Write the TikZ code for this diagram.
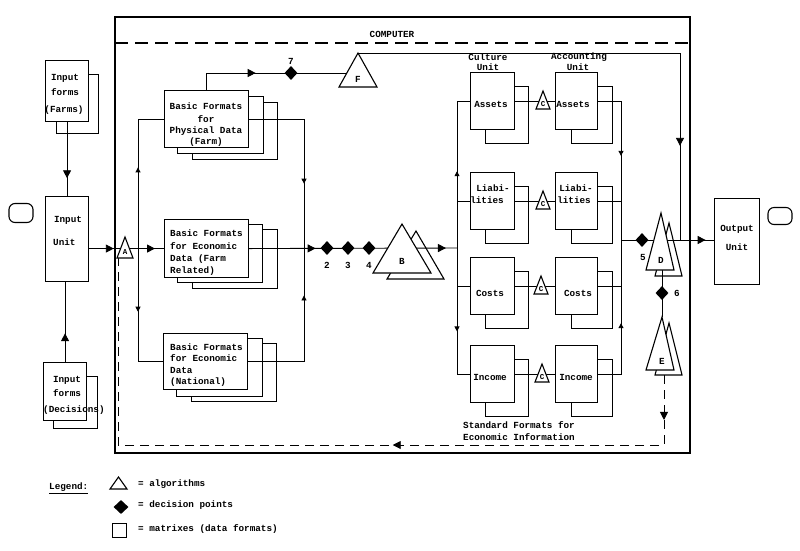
\documentclass[tikz,border=0pt]{standalone}
\usepackage{fontspec}
\setmonofont{Liberation Mono}
\usetikzlibrary{shapes.geometric,arrows.meta,decorations.markings}

\tikzset{
  fmt/.style={draw, fill=white, line width=1.1pt, anchor=north west, inner sep=0pt},
  algo/.style={draw, fill=white, line width=1.1pt},
  dpoint/.style={diamond, fill=black, inner sep=0pt, minimum width=13pt, minimum height=14pt},
  reel/.style={draw, line width=1.1pt, rounded corners=6pt, minimum width=24pt, minimum height=19pt},
  flow/.style={line width=0.9pt},
  lbl/.style={font=\ttfamily\bfseries\fontsize{9.3}{11}\selectfont, inner sep=0pt},
  letter/.style={font=\ttfamily\bfseries\fontsize{7.5}{8}\selectfont, inner sep=0pt},
  tipat/.style={postaction={decorate}, decoration={markings,
      mark=at position #1 with {\arrow{Triangle[length=8pt,width=8pt]}}}},
  tipsat/.style 2 args={postaction={decorate}, decoration={markings,
      mark=at position #1 with {\arrow{Triangle[length=8pt,width=8pt]}},
      mark=at position #2 with {\arrow{Triangle[length=8pt,width=8pt]}}}},
  bustip/.style={postaction={decorate}, decoration={markings,
      mark=at position #1 with {\arrow{Triangle[length=5pt,width=5pt]}}}}
}

\begin{document}
\begin{tikzpicture}[x=1pt,y=1pt,yscale=-1]
  \path[use as bounding box] (0,0) rectangle (800,550);
  %Computer frame
  \draw[line width=1.2pt] (115,17) rectangle (690,453);
  \draw[line width=1.2pt, dash pattern=on 13pt off 7pt] (115,43) -- (690,43);
  \node[lbl] (computer) at (392,34) {COMPUTER};

  %Tape symbols
  \node[reel] (tapein) at (21,213) {};
  \node[reel, minimum height=17pt] (tapeout) at (780,216) {};

  %Input and output units
  \node[fmt, minimum width=42pt, minimum height=59pt] (farms2) at (56,74) {};
  \node[fmt, minimum width=43pt, minimum height=61pt] (farms) at (45,60) {};
  \node[fmt, minimum width=43pt, minimum height=85pt] (inunit) at (45,196) {};
  \node[fmt, minimum width=44pt, minimum height=52pt] (decis2) at (53,376) {};
  \node[fmt, minimum width=43pt, minimum height=58pt] (decis) at (43,362) {};
  \node[fmt, minimum width=45pt, minimum height=86pt] (outunit) at (714,198) {};

  %Basic formats (stacks of three)
  \node[fmt, minimum width=85pt, minimum height=57pt] (phys3) at (192,102) {};
  \node[fmt, minimum width=86pt, minimum height=57pt] (phys2) at (177,96) {};
  \node[fmt, minimum width=84pt, minimum height=57pt] (phys) at (164,90) {};
  \node[fmt, minimum width=85pt, minimum height=59pt] (econ3) at (192,229) {};
  \node[fmt, minimum width=85pt, minimum height=58pt] (econ2) at (177,224) {};
  \node[fmt, minimum width=84pt, minimum height=58pt] (econ) at (164,219) {};
  \node[fmt, minimum width=85pt, minimum height=58pt] (natl3) at (191,343) {};
  \node[fmt, minimum width=86pt, minimum height=58pt] (natl2) at (176,338) {};
  \node[fmt, minimum width=84pt, minimum height=56pt] (natl) at (163,333) {};

  %Culture unit
  \node[fmt, minimum width=43pt, minimum height=57pt] (cAssets2) at (485,86) {};
  \node[fmt, minimum width=44pt, minimum height=57pt] (cAssets) at (470,72) {};
  \node[fmt, minimum width=43pt, minimum height=57pt] (cLiab2) at (485,186) {};
  \node[fmt, minimum width=44pt, minimum height=57pt] (cLiab) at (470,172) {};
  \node[fmt, minimum width=43pt, minimum height=57pt] (cCosts2) at (485,271) {};
  \node[fmt, minimum width=44pt, minimum height=57pt] (cCosts) at (470,257) {};
  \node[fmt, minimum width=43pt, minimum height=57pt] (cIncome2) at (485,359) {};
  \node[fmt, minimum width=44pt, minimum height=57pt] (cIncome) at (470,345) {};

  %Accounting unit
  \node[fmt, minimum width=41pt, minimum height=57pt] (aAssets2) at (571,86) {};
  \node[fmt, minimum width=42pt, minimum height=57pt] (aAssets) at (555,72) {};
  \node[fmt, minimum width=41pt, minimum height=57pt] (aLiab2) at (571,186) {};
  \node[fmt, minimum width=42pt, minimum height=57pt] (aLiab) at (555,172) {};
  \node[fmt, minimum width=41pt, minimum height=57pt] (aCosts2) at (571,271) {};
  \node[fmt, minimum width=42pt, minimum height=57pt] (aCosts) at (555,257) {};
  \node[fmt, minimum width=41pt, minimum height=57pt] (aIncome2) at (571,359) {};
  \node[fmt, minimum width=42pt, minimum height=57pt] (aIncome) at (555,345) {};

  %Back copies of algorithms B, D, E
  \draw[algo] (387,279) -- (416,231) -- (444,279) -- cycle;
  \draw[algo] (655,276) -- (669,223) -- (682,276) -- cycle;
  \draw[algo] (655,375) -- (669,323) -- (682,375) -- cycle;

  \coordinate (Ftop) at (358,53);
  \coordinate (Fin) at (347,73);
  \coordinate (Abl) at (118,258);
  \coordinate (lsplit) at (138,248);
  \coordinate (rsplit) at (304,248);
  \coordinate (cbus) at (457,248);
  \coordinate (abus) at (621,240);
  \coordinate (Fdrop) at (680,240);
  \coordinate (Dbase) at (662,270);
  \coordinate (Etop) at (662,317);
  \coordinate (Eout) at (664,375);
  \coordinate (loopturn) at (664,445);

  %Flows on the input side
  \draw[flow, tipat=0.76] (farms.south) -- (inunit.north);
  \draw[flow, tipat=0.36] (decis.north) -- (decis.north |- inunit.south);
  \draw[flow, tipsat={0.33}{0.88}] (inunit.east |- econ.west) -- (econ.west);
  \draw[flow, bustip=0.52] (lsplit) |- (phys.west);
  \draw[flow, bustip=0.46] (lsplit) |- (natl.west);
  \draw[flow, bustip=0.65] (phys.east) -| (rsplit);
  \draw[flow, bustip=0.72] (natl.east) -| (rsplit);
  \draw[flow, tipsat={0.32}{0.947}] (econ.east) -- (cbus);

  %Flows through the standard formats
  \draw[flow, bustip=0.48] (cbus) |- (cAssets.west);
  \draw[flow] (cbus |- cLiab.west) -- (cLiab.west);
  \draw[flow] (cbus |- cCosts.west) -- (cCosts.west);
  \draw[flow, bustip=0.60] (cbus) |- (cIncome.west);
  \draw[flow] (cAssets.east) -- (aAssets.west);
  \draw[flow] (cLiab.east) -- (aLiab.west);
  \draw[flow] (cCosts.east) -- (aCosts.west);
  \draw[flow] (cIncome.east) -- (aIncome.west);
  \draw[flow, bustip=0.48] (aAssets.east) -| (abus);
  \draw[flow] (aLiab.east) -- (aLiab.east -| abus);
  \draw[flow] (aCosts.east) -- (aCosts.east -| abus);
  \draw[flow, bustip=0.47] (aIncome.east) -| (abus);
  \draw[flow, tipat=0.91] (abus) -- (abus -| outunit.west);

  %Loop through F
  \draw[flow, tipat=0.42] (phys.north) |- (Fin);
  \draw[flow, tipat=0.815] (Ftop) -| (Fdrop);

  %D to E and feedback
  \draw[flow] (Dbase) -- (Etop);
  \draw[flow, dash pattern=on 9pt off 6pt, tipsat={0.056}{0.425}] (Eout) -- (loopturn) -| (Abl);

  %Algorithms (front)
  \draw[algo] (117,258) -- (125,237) -- (133,258) -- cycle;
  \draw[algo] (373,273) -- (402,224) -- (431,273) -- cycle;
  \draw[algo] (339,87) -- (Ftop) -- (377,87) -- cycle;
  \draw[algo] (536,109) -- (543,91) -- (550,109) -- cycle;
  \draw[algo] (536,209) -- (543,191) -- (550,209) -- cycle;
  \draw[algo] (534,294) -- (541,276) -- (548,294) -- cycle;
  \draw[algo] (535,382) -- (542,364) -- (549,382) -- cycle;
  \draw[algo] (646,270) -- (661,213) -- (674,270) -- cycle;
  \draw[algo] (646,370) -- (Etop) -- (674,370) -- cycle;

  %Decision points
  \node[dpoint] (dec7) at (291,73) {};
  \node[dpoint] (dec2) at (327,248) {};
  \node[dpoint] (dec3) at (348,248) {};
  \node[dpoint] (dec4) at (369,248) {};
  \node[dpoint] (dec5) at (642,240) {};
  \node[dpoint] (dec6) at (662,293) {};

  % Text Node
  \node[lbl] at (65,78) {Input};
  \node[lbl] at (65,92) {forms};
  \node[lbl] at (64,110) {(Farms)};
  \node[lbl] at (68,220) {Input};
  \node[lbl, anchor=west] at (53,242) {Unit};
  \node[lbl] at (67,380) {Input};
  \node[lbl] at (67,393) {forms};
  \node[lbl, anchor=west] at (43,410) {(Decisions)};
  \node[lbl] at (737,229) {Output};
  \node[lbl] at (737,247) {Unit};
  % Text Node
  \node[lbl] at (206,106) {Basic Formats};
  \node[lbl] at (206,119) {for};
  \node[lbl] at (206,131) {Physical Data};
  \node[lbl] at (206,142) {(Farm)};
  \node[lbl, anchor=west] at (170,233) {Basic Formats};
  \node[lbl, anchor=west] at (170,246) {for Economic};
  \node[lbl, anchor=west] at (170,259) {Data (Farm};
  \node[lbl, anchor=west] at (170,271) {Related)};
  \node[lbl, anchor=west] at (170,347) {Basic Formats};
  \node[lbl, anchor=west] at (170,358) {for Economic};
  \node[lbl, anchor=west] at (170,370) {Data};
  \node[lbl, anchor=west] at (170,382) {(National)};
  % Text Node
  \node[lbl] at (488,57) {Culture};
  \node[lbl] at (488,67) {Unit};
  \node[lbl] at (579,57) {Accounting};
  \node[lbl] at (578,67) {Unit};
  \node[lbl] at (491,104) {Assets};
  \node[lbl] at (493,188) {Liabi-};
  \node[lbl] at (487,200) {lities};
  \node[lbl] at (490,293) {Costs};
  \node[lbl] at (490,377) {Income};
  \node[lbl] at (573,104) {Assets};
  \node[lbl] at (576,188) {Liabi-};
  \node[lbl] at (574,200) {lities};
  \node[lbl] at (578,293) {Costs};
  \node[lbl] at (576,377) {Income};
  \node[lbl, anchor=west] at (463,425) {Standard Formats for};
  \node[lbl, anchor=west] at (463,437) {Economic Information};
  % Text Node
  \node[letter] at (125,252) {A};
  \node[lbl] at (402,261) {B};
  \node[letter] at (543,104) {C};
  \node[letter] at (543,204) {C};
  \node[letter] at (541,289) {C};
  \node[letter] at (542,377) {C};
  \node[lbl] at (661,260) {D};
  \node[lbl] at (662,361) {E};
  \node[lbl] at (358,79) {F};
  \node[lbl] at (291,61) {7};
  \node[lbl] at (327,265) {2};
  \node[lbl] at (348,265) {3};
  \node[lbl] at (369,265) {4};
  \node[lbl] at (643,257) {5};
  \node[lbl] at (677,293) {6};

  %Legend
  \node[lbl, anchor=west] (legend) at (49,488) {\underline{Legend:}};
  \draw[algo] (110,489) -- (118.5,477) -- (127,489) -- cycle;
  \node[dpoint, minimum width=15pt] (legdec) at (121,507) {};
  \node[fmt, minimum width=14pt, minimum height=14pt] (legbox) at (112,523) {};
  \node[lbl, anchor=west] at (138,484) {= algorithms};
  \node[lbl, anchor=west] at (138,505) {= decision points};
  \node[lbl, anchor=west] at (138,529) {= matrixes (data formats)};
\end{tikzpicture}
\end{document}
